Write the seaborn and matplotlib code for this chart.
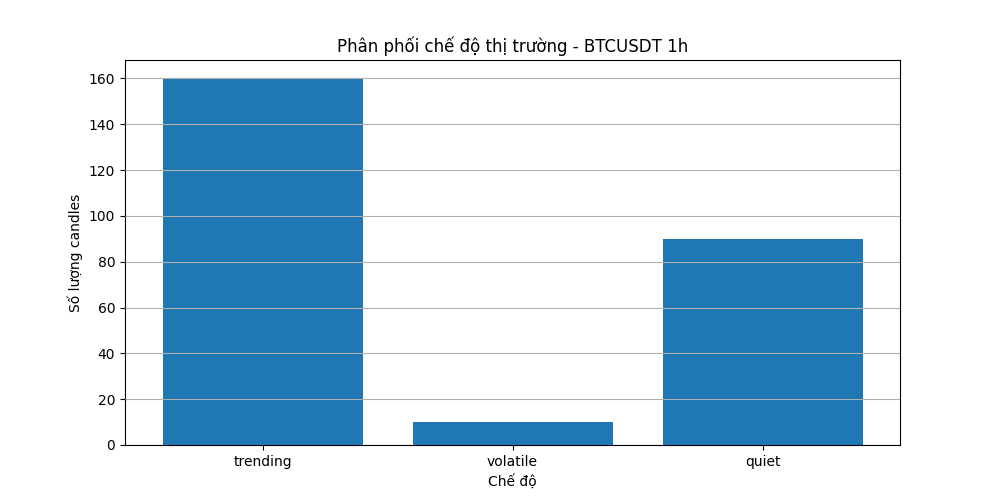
import matplotlib
matplotlib.use("Agg")
import matplotlib.pyplot as plt
import seaborn as sns
import pandas as pd

# dữ liệu
regimes = ["trending", "volatile", "quiet"]
counts = [160, 10, 90]

df = pd.DataFrame({"regime": regimes, "count": counts})

plt.rcParams['font.family'] = ['DejaVu Sans']
fig, ax = plt.subplots(figsize=(10, 5), dpi=100)
sns.barplot(data=df, x="regime", y="count", color="#1f77b4", saturation=1,
            width=0.8, ax=ax)
ax.set_axisbelow(False)
ax.yaxis.grid(True, color="#b0b0b0", linewidth=0.8)
ax.set_title("Phân phối chế độ thị trường - BTCUSDT 1h")
ax.set_xlabel("Chế độ")
ax.set_ylabel("Số lượng candles")
ax.set_xlim(-0.5 - 0.05, 2.5 + 0.05)
ax.set_ylim(0, 168)
plt.savefig("out.png", dpi=100)
